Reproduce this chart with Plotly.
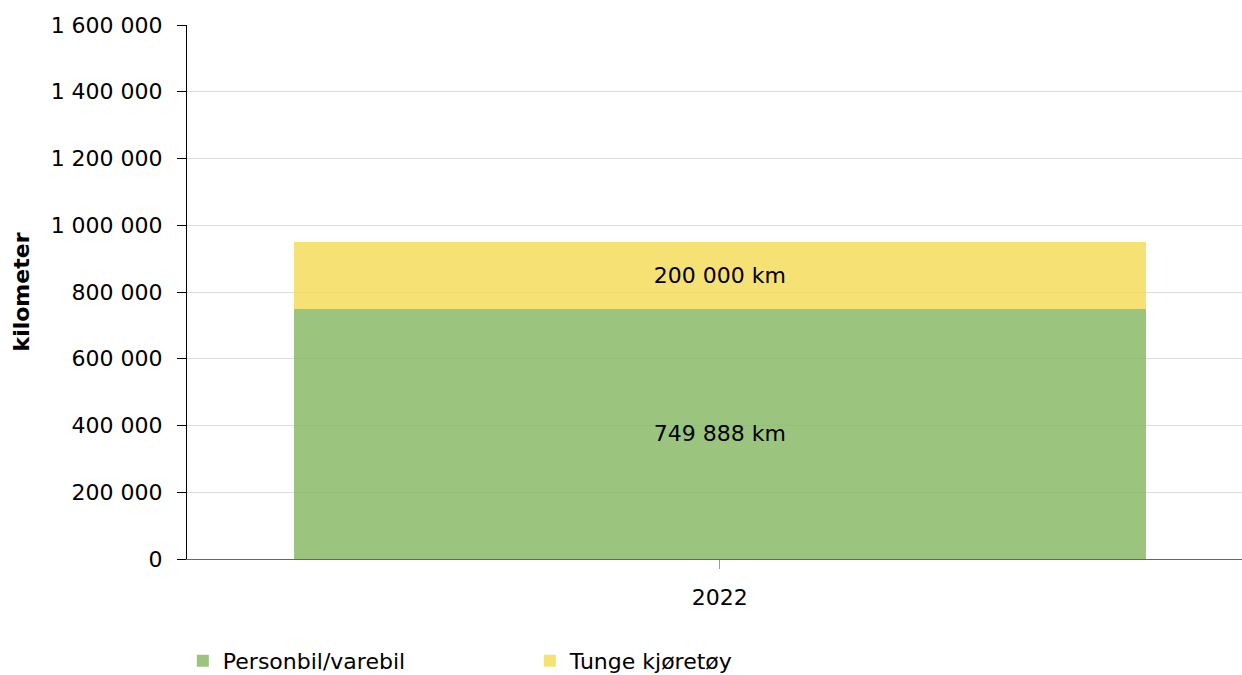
import plotly.graph_objects as go

categories = ["2022"]
series_names = ["Personbil/varebil", "Tunge kjøretøy"]
personbil = [749888]
tunge = [200000]
y_ticks = [0, 200000, 400000, 600000, 800000, 1000000, 1200000, 1400000, 1600000]

FONT = "DejaVu Sans, Verdana, sans-serif"
FS = 22

fig = go.Figure()
fig.add_trace(go.Bar(
    x=categories, y=personbil, name=series_names[0],
    marker=dict(color="rgba(137,186,104,0.85)", line=dict(width=0)),
    width=0.8,
    texttemplate="%{y:,} km", textposition="inside", insidetextanchor="middle",
    textfont=dict(family=FONT, size=FS, color="#000000"),
))
fig.add_trace(go.Bar(
    x=categories, y=tunge, name=series_names[1],
    marker=dict(color="rgba(244,221,92,0.85)", line=dict(width=0)),
    width=0.8,
    texttemplate="%{y:,} km", textposition="inside", insidetextanchor="middle",
    textfont=dict(family=FONT, size=FS, color="#000000"),
))

fig.update_layout(
    barmode="stack",
    width=1242, height=675,
    margin=dict(l=187, r=0, t=25, b=116),
    paper_bgcolor="white", plot_bgcolor="white",
    font=dict(family=FONT, size=FS, color="#000000"),
    separators=", ",
    uniformtext=dict(mode="show", minsize=FS),
    legend=dict(
        orientation="h",
        xref="container", x=0.1472, xanchor="left",
        yref="container", y=0.052, yanchor="top",
        entrywidth=302, entrywidthmode="pixels",
        font=dict(family=FONT, size=FS, color="#000000"),
        traceorder="normal",
    ),
    xaxis=dict(
        type="category", range=[-0.5, 0.49],
        showline=True, linecolor="#666666", linewidth=1,
        ticks="outside", ticklen=9, tickcolor="#999999",
        ticklabelstandoff=10,
        showgrid=False,
    ),
    yaxis=dict(
        range=[0, 1600000], tickvals=y_ticks, tickformat=",d",
        showline=True, linecolor="#000000", linewidth=1,
        ticks="outside", ticklen=9, tickcolor="#000000",
        ticklabelstandoff=10,
        showgrid=True, gridcolor="#dcdcdc", gridwidth=1,
        zeroline=False,
        title=dict(text="<b>kilometer</b>", font=dict(family=FONT, size=FS), standoff=14),
    ),
)

fig.write_html(
    "out.html",
    config={"displayModeBar": False},
    post_script="document.body.style.margin='0';document.body.style.overflow='hidden';",
)
